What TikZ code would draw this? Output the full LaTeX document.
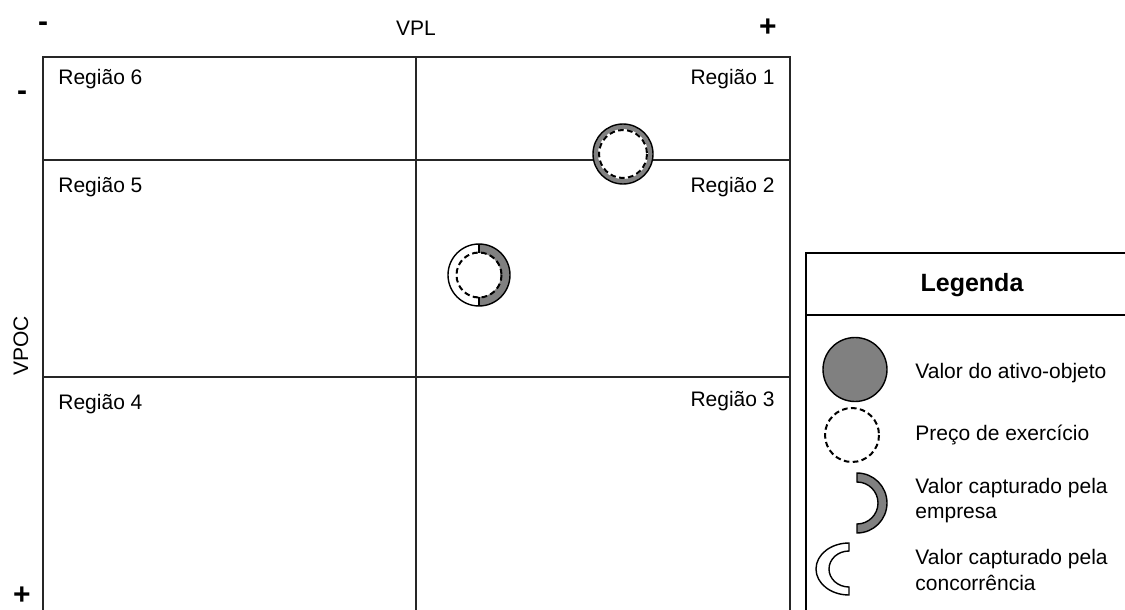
\documentclass[tikz,border=0pt]{standalone}
\usepackage{fontspec}
\setmainfont{Liberation Sans}
\usepackage{tikz}
\usetikzlibrary{calc,positioning}
\definecolor{anelcinza}{RGB}{128,128,128}

\begin{document}
\begin{tikzpicture}[x=0.5pt, y=-0.5pt,
  texto/.style={font=\fontsize{10.5}{12.5}\selectfont, inner sep=0pt},
  sinal/.style={font=\bfseries\fontsize{15}{16}\selectfont, inner sep=0pt},
  grade/.style={line width=0.7pt, draw=black!85},
  tracejado/.style={line width=1pt, dash pattern=on 2.8pt off 1.7pt}]

\useasboundingbox (0,0) rectangle (1125,610);

% --- Eixos ---
\node[texto] (vpl) at (416,28) {VPL};
\node[texto, rotate=90] (vpoc) at (21,346) {VPOC};
\node[sinal] (menosx) at (43,27) {-};
\node[sinal] (maisx) at (768,28) {+};
\node[sinal] (menosy) at (22,96) {-};
\node[sinal] (maisy) at (22,596) {+};

% --- Matriz de regioes ---
\draw[grade] (43,612) -- (43,57) -- (790,57) -- (790,612);
\draw[grade] (416,57) -- (416,612);
\draw[grade] (43,160) -- (790,160);
\draw[grade] (43,377) -- (790,377);
\node[texto, anchor=base west] (r6) at (58,85) {Região 6};
\node[texto, anchor=base east] (r1) at (775,85) {Região 1};
\node[texto, anchor=base west] (r5) at (58,192) {Região 5};
\node[texto, anchor=base east] (r2) at (775,192) {Região 2};
\node[texto, anchor=base west] (r4) at (58,409) {Região 4};
\node[texto, anchor=base east] (r3) at (775,406) {Região 3};

% Opcao na fronteira 1/2: ativo-objeto com anel cinza
\draw[line width=0.7pt, fill=anelcinza] (623,154) circle[radius=30];
\fill[white] (623,154) circle[radius=25];
\draw[tracejado] (623,154) circle[radius=24];

% Opcao na regiao 2: metade empresa, metade concorrencia
\fill[white] (479,244) arc[start angle=270, end angle=90, radius=31]
  -- (479,297) arc[start angle=90, end angle=270, radius=22] -- cycle;
\fill[anelcinza] (479,244) arc[start angle=-90, end angle=90, radius=31]
  -- (479,297) arc[start angle=90, end angle=-90, radius=22] -- cycle;
\draw[line width=0.7pt] (479,275) circle[radius=31];
\draw[line width=0.7pt] (479,244) -- (479,253) (479,297) -- (479,306);
\draw[tracejado] (479,275) circle[radius=22.5];

% --- Legenda ---
\draw[line width=1pt] (1127,253) -- (806,253) -- (806,612);
\draw[line width=1pt] (806,315) -- (1127,315);
\node[font=\bfseries\fontsize{12.5}{14}\selectfont, inner sep=0pt] (leg) at (972,285) {Legenda};

\draw[line width=0.7pt, fill=anelcinza] (855,369.5) circle[radius=32];
\node[texto, anchor=base west] (l1) at (915,378) {Valor do ativo-objeto};

\draw[tracejado] (852,435) circle[radius=27];
\node[texto, anchor=base west] (l2) at (915,440) {Preço de exercício};

\draw[line width=0.7pt, fill=anelcinza] (857,473) arc[start angle=-90, end angle=90, radius=30]
  -- (857,524) arc[start angle=90, end angle=-90, radius=21] -- cycle;
\node[texto, anchor=base west] (l3) at (915,493) {Valor capturado pela};
\node[texto, anchor=base west] (l3b) at (915,518) {empresa};

\draw[line width=0.7pt, fill=white] (849,543) arc[start angle=270, end angle=90, x radius=33, y radius=26]
  -- (849,587) arc[start angle=90, end angle=270, x radius=20, y radius=18] -- cycle;
\node[texto, anchor=base west] (l4) at (915,564) {Valor capturado pela};
\node[texto, anchor=base west] (l4b) at (915,590) {concorrência};

\end{tikzpicture}
\end{document}
